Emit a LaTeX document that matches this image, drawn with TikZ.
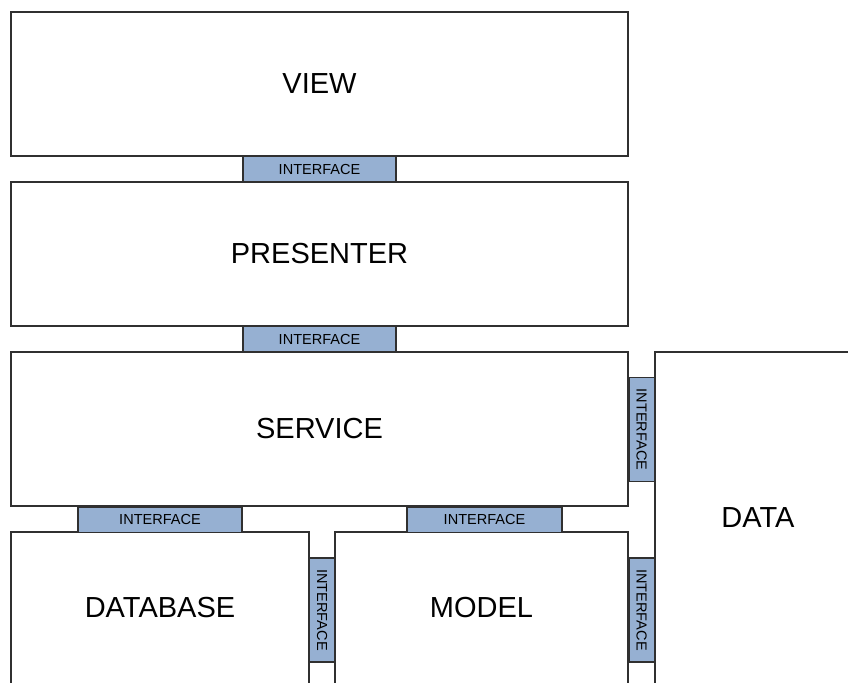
\documentclass[tikz,border=0pt]{standalone}
\usepackage{fontspec}
\setmainfont{Liberation Sans}
\definecolor{ifacefill}{HTML}{96B0D2}
\definecolor{edge}{HTML}{303030}
\begin{document}
\begin{tikzpicture}[x=0.75pt,y=-0.75pt,
  layer/.style={draw=edge, line width=1pt, fill=white, inner sep=0pt, font=\fontsize{21.75pt}{24pt}\selectfont},
  iface/.style={draw=edge, line width=1pt, fill=ifacefill, inner sep=0pt, font=\fontsize{10.9pt}{12pt}\selectfont},
  hiface/.style={iface, minimum height=19pt},
  viface/.style={iface, minimum width=19pt, minimum height=78pt}]
\useasboundingbox (0,0) rectangle (848,682);
\clip (0,0) rectangle (848,682);
% layers
\node[layer, minimum width=462.75pt, minimum height=108pt] (view) at (319.5,84) {VIEW};
\node[layer, minimum width=462.75pt, minimum height=108pt] (presenter) at (319.5,254) {PRESENTER};
\node[layer, minimum width=462.75pt, minimum height=115.5pt] (service) at (319.5,429) {SERVICE};
\node[layer, minimum width=154.5pt, minimum height=249pt] (data) at (758,518) {DATA};
\node[layer, minimum width=223.5pt, minimum height=114pt] (database) at (160,608) {DATABASE};
\node[layer, minimum width=219.75pt, minimum height=114pt] (model) at (481.5,608) {MODEL};
% interfaces between layers
\node[hiface, minimum width=114.75pt] (i1) at (319.5,169.2) {INTERFACE};
\node[hiface, minimum width=114.75pt] (i2) at (319.5,339.2) {INTERFACE};
\node[hiface, minimum width=123pt] (i3) at (160,519.5) {INTERFACE};
\node[hiface, minimum width=116.25pt] (i4) at (484.5,519.5) {INTERFACE};
\node[viface] (i5) at (641.5,429.5) {\rotatebox{-90}{INTERFACE}};
\node[viface] (i6) at (322.2,610) {\rotatebox{-90}{INTERFACE}};
\node[viface] (i7) at (641.5,610) {\rotatebox{-90}{INTERFACE}};
\end{tikzpicture}
\end{document}
